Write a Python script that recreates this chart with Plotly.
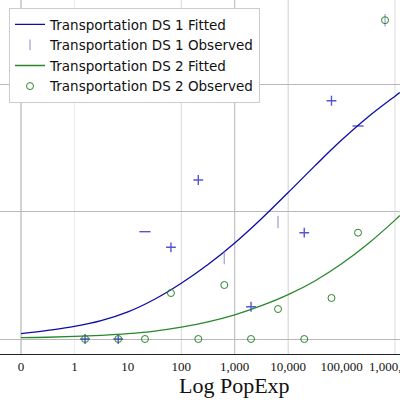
import plotly.graph_objects as go

# ---- data ----
tick_vals = [0.1, 1, 10, 100, 1000, 10000, 100000, 1000000]
tick_text = ["0", "1", "10", "100", "1,000", "10,000", "100,000", "1,000,000"]

fit_x = [0.1, 0.316, 1, 3.16, 10, 31.6, 100, 316, 1000, 3162, 10000,
         31623, 100000, 316228, 1000000, 1230000]
ds1_fit = [0.042, 0.068, 0.099, 0.144, 0.213, 0.313, 0.439, 0.586, 0.756,
           0.947, 1.153, 1.363, 1.566, 1.75, 1.912, 1.94]
ds2_fit = [0.011, 0.014, 0.020, 0.029, 0.042, 0.062, 0.093, 0.135, 0.190,
           0.262, 0.349, 0.457, 0.592, 0.752, 0.936, 0.972]

ds1_obs_x = [638, 6460, 650000, 1.58, 6.6, 20.9, 64, 208, 2018, 20000, 64700, 203000]
ds1_obs_y = [0.638, 0.921, 2.51, 0.0, 0.0, 0.845, 0.722, 1.252, 0.254, 0.837, 1.876, 1.677]
ds1_obs_sym = ["line-ns", "line-ns", "line-ns", "cross-thin", "cross-thin", "line-ew",
               "cross-thin", "cross-thin", "cross-thin", "cross-thin", "cross-thin", "line-ew"]

ds2_obs_x = [1.58, 6.6, 20.9, 64, 208, 638, 2018, 6460, 20000, 64700, 203000, 650000]
ds2_obs_y = [0.0, 0.0, 0.0, 0.362, 0.0, 0.425, 0.0, 0.236, 0.0, 0.323, 0.837, 2.51]

grid_x = [0.1, 1, 100, 1000, 10000, 1000000]
grid_col = ["#a8a8a8", "#ececec", "#d8d8d8", "#b4b4b4", "#d0d0d0", "#dcdcdc"]

BLUE_LINE = "#0c0ca8"
BLUE_MK = "#1010c0"
GREEN = "#2a862a"

sym_col = ["#8a8ad0" if s == "line-ns" else BLUE_MK for s in ds1_obs_sym]
sym_size = [9 if s == "line-ns" else (8 if s == "line-ew" else 7) for s in ds1_obs_sym]

fig = go.Figure()
fig.add_trace(go.Scatter(x=fit_x, y=ds1_fit, mode="lines", line_shape="spline",
                         name="Transportation DS 1 Fitted",
                         line=dict(color=BLUE_LINE, width=1.3)))
fig.add_trace(go.Scatter(x=ds1_obs_x, y=ds1_obs_y, mode="markers",
                         name="Transportation DS 1 Observed",
                         marker=dict(symbol=ds1_obs_sym, size=sym_size, color=sym_col,
                                     line=dict(color=sym_col, width=1.4))))
fig.add_trace(go.Scatter(x=fit_x, y=ds2_fit, mode="lines", line_shape="spline",
                         name="Transportation DS 2 Fitted",
                         line=dict(color=GREEN, width=1.3)))
fig.add_trace(go.Scatter(x=ds2_obs_x, y=ds2_obs_y, mode="markers",
                         name="Transportation DS 2 Observed",
                         marker=dict(symbol="circle-open", size=7, color=GREEN,
                                     line=dict(color=GREEN, width=1))))

shapes = []
for gx, gc in zip(grid_x, grid_col):
    shapes.append(dict(type="line", xref="x", yref="paper", x0=gx, x1=gx, y0=0, y1=1,
                       line=dict(color=gc, width=1), layer="below"))

fig.update_layout(
    width=400, height=400,
    margin=dict(l=0, r=0, t=0, b=46, autoexpand=False),
    paper_bgcolor="white", plot_bgcolor="white",
    showlegend=True,
    shapes=shapes,
    legend=dict(x=0.0225, y=0.977, xanchor="left", yanchor="top",
                bgcolor="white", bordercolor="#cccccc", borderwidth=1,
                font=dict(family="DejaVu Sans", size=13.5, color="#111111"),
                tracegroupgap=0),
    xaxis=dict(type="log", range=[-1.393, 6.093], tickvals=tick_vals, ticktext=tick_text,
               showgrid=False, zeroline=False, showline=True, linecolor="#222222",
               linewidth=1, ticks="", ticklabeloverflow="allow", automargin=False,
               tickfont=dict(family="Liberation Serif", size=13, color="#111111")),
    yaxis=dict(range=[-0.118, 2.669], tickvals=[0, 1, 2], showticklabels=False,
               showgrid=True, gridcolor="#b8b8b8", gridwidth=1, zeroline=False,
               showline=True, linecolor="#b0b0b0", ticks="", automargin=False),
    annotations=[dict(text="Log PopExp", xref="paper", yref="paper", x=0.5865, y=0,
                      yshift=-31, xanchor="center", yanchor="middle", showarrow=False,
                      font=dict(family="Liberation Serif", size=22, color="#111111"))],
)

fig.write_html("out.html")
